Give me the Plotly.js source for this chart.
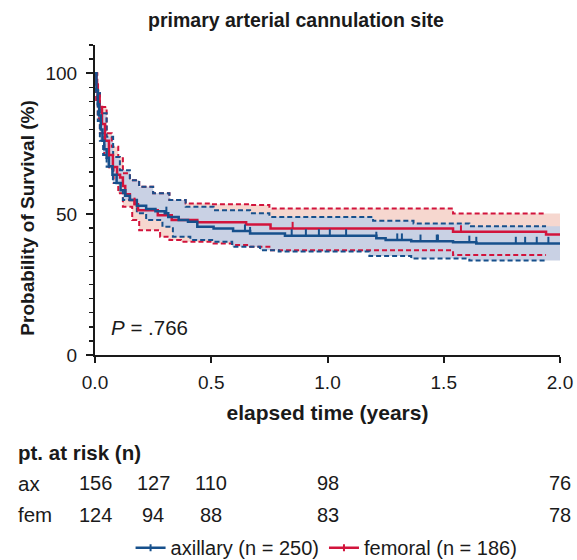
<!DOCTYPE html>
<html><head><meta charset="utf-8">
<script src="https://cdn.plot.ly/plotly-3.0.1.min.js"></script>
<style>html,body{margin:0;padding:0;background:#fff}</style>
</head><body><div id="chart" style="width:577px;height:560px"></div>
<script>
// Kaplan-Meier estimates (time in years, survival in %)
const axTime = [0, 0.006, 0.012, 0.018, 0.025, 0.032, 0.04, 0.05, 0.06, 0.075, 0.093, 0.11, 0.13, 0.15, 0.18, 0.22, 0.26, 0.30, 0.315, 0.36, 0.40, 0.44, 0.51, 0.594, 0.667, 0.817, 1.21, 1.25, 1.36, 1.54, 1.64, 2.0];
const axSurv = [100, 94, 89, 85, 80, 76, 73, 70, 67, 64, 61, 58.5, 56.5, 55, 53, 51.8, 51, 50.3, 49, 47.9, 47.3, 45.5, 44.9, 44, 43.1, 42.3, 41.4, 40.8, 40.4, 40.0, 39.6, 39.6];
const femTime = [0, 0.006, 0.012, 0.02, 0.03, 0.043, 0.06, 0.077, 0.095, 0.108, 0.12, 0.13, 0.15, 0.17, 0.185, 0.27, 0.33, 0.44, 0.65, 0.755, 1.54, 1.94, 2.0];
const femSurv = [100, 96, 92, 88, 82, 76, 71, 66.7, 64, 63, 60, 57, 55, 53.5, 51.4, 49.6, 47.9, 47.1, 46.3, 44.9, 43.7, 42.8, 42.8];

// 95% confidence limits
const axUpTime = [0, 0.008, 0.021, 0.05, 0.078, 0.107, 0.15, 0.19, 0.25, 0.32, 0.39, 0.51, 0.667, 0.75, 1.196, 1.37, 1.61, 1.94];
const axUp     = [100, 93, 85.8, 77.4, 70.3, 65.6, 62, 59.7, 57.4, 55, 52.6, 51.4, 50.3, 49, 47.6, 46.7, 45.7, 45.7];
const axLoTime = [0, 0.005, 0.012, 0.021, 0.035, 0.05, 0.077, 0.12, 0.18, 0.22, 0.29, 0.335, 0.41, 0.51, 0.59, 0.71, 0.79, 1.18, 1.36, 1.61, 1.94];
const axLo     = [100, 92, 83, 76, 71, 66.8, 61, 55, 50.3, 47.9, 45.5, 42, 40.8, 40.2, 38.4, 37.2, 36.7, 35.1, 34.2, 33.5, 33.5];
const femUpTime = [0, 0.01, 0.021, 0.05, 0.072, 0.1, 0.12, 0.15, 0.19, 0.25, 0.32, 0.39, 0.5, 0.667, 0.75, 1.54, 1.94];
const femUp     = [100, 94, 88, 78.7, 73.9, 70.3, 64.5, 62, 59.7, 57.4, 55, 53.8, 53.5, 53.2, 52, 50.2, 50.2];
const femLoTime = [0, 0.005, 0.012, 0.021, 0.04, 0.06, 0.08, 0.1, 0.12, 0.16, 0.19, 0.28, 0.32, 0.37, 0.51, 0.59, 0.667, 0.75, 1.54, 1.94];
const femLo     = [100, 90, 84, 78.7, 71, 66, 61, 57.4, 52.6, 47.9, 44.3, 42, 40.8, 40.2, 39.6, 39, 38.4, 37.2, 35.5, 35.5];

// censored observations (years)
const axCens  = [0.13, 0.307, 0.645, 0.667, 0.846, 0.907, 0.963, 1.01, 1.08, 1.21, 1.30, 1.32, 1.40, 1.47, 1.475, 1.61, 1.64, 1.81, 1.85, 1.90, 1.95];
const femCens = [0.17, 0.85, 1.574];

// numbers at risk
const riskTimes = [0, 0.25, 0.5, 1.0, 2.0];
const axRisk  = [156, 127, 110, 98, 76];
const femRisk = [124, 94, 88, 83, 78];

const axLabel = 'axillary (n = 250)';
const femLabel = 'femoral (n = 186)';
const pText = '<i>P</i> = .766';

const BLUE = '#17508C', RED = '#D2143C';
const BLUE_FILL = '#C9D1E4', RED_FILL = '#F6D7CF';
const FONT = 'Liberation Sans, Arial, Helvetica, sans-serif';
const INK = '#1a1a1a';
const XMAX = 2.0;
const LIFT = 1.1;

function stepAt(T, S, t) { let v = S[0]; for (let i = 0; i < T.length; i++) if (T[i] <= t) v = S[i]; return v; }
function extend(T, S) { return {x: T.concat([XMAX]), y: S.concat([S[S.length - 1]])}; }
function censTrace(C, T, S, color, name) {
  const x = [], y = [];
  C.forEach(t => { x.push(t, null); y.push(stepAt(T, S, t) + LIFT, null); });
  return {x, y, type: 'scatter', mode: 'lines+markers', name, connectgaps: false,
    line: {color, width: 2.5},
    marker: {symbol: 'line-ns', size: 5, line: {color, width: 2}}, cliponaxis: false};
}

const fr = {lo: extend(femLoTime, femLo), up: extend(femUpTime, femUp)};
const fa = {lo: extend(axLoTime, axLo), up: extend(axUpTime, axUp)};
const dashed = (color) => ({shape: 'hv', color, width: 2, dash: '5px,3px'});

const traces = [
  {x: fr.lo.x, y: fr.lo.y, type: 'scatter', mode: 'lines', line: {shape: 'hv', width: 0}, showlegend: false, hoverinfo: 'skip'},
  {x: fr.up.x, y: fr.up.y, type: 'scatter', mode: 'lines', line: {shape: 'hv', width: 0}, fill: 'tonexty', fillcolor: RED_FILL, showlegend: false, hoverinfo: 'skip'},
  {x: fa.lo.x, y: fa.lo.y, type: 'scatter', mode: 'lines', line: {shape: 'hv', width: 0}, showlegend: false, hoverinfo: 'skip'},
  {x: fa.up.x, y: fa.up.y, type: 'scatter', mode: 'lines', line: {shape: 'hv', width: 0}, fill: 'tonexty', fillcolor: BLUE_FILL, showlegend: false, hoverinfo: 'skip'},
  {x: femUpTime, y: femUp, type: 'scatter', mode: 'lines', line: dashed(RED), showlegend: false},
  {x: femLoTime, y: femLo, type: 'scatter', mode: 'lines', line: dashed(RED), showlegend: false},
  {x: axUpTime, y: axUp, type: 'scatter', mode: 'lines', line: dashed(BLUE), showlegend: false},
  {x: axLoTime, y: axLo, type: 'scatter', mode: 'lines', line: dashed(BLUE), showlegend: false},
  {x: femTime, y: femSurv, type: 'scatter', mode: 'lines', line: {shape: 'hv', color: RED, width: 2.5}, showlegend: false},
  {x: axTime, y: axSurv, type: 'scatter', mode: 'lines', line: {shape: 'hv', color: BLUE, width: 2.5}, showlegend: false},
  censTrace(axCens, axTime, axSurv, BLUE, axLabel),
  censTrace(femCens, femTime, femSurv, RED, femLabel)
];

const txt = (size, extra) => Object.assign({showarrow: false, font: {size, color: INK, family: FONT}}, extra);
const annotations = [
  txt(19, {text: '<b>Probability of Survival (%)</b>', xref: 'paper', yref: 'paper', x: -0.144, y: 0.44, textangle: -90, xanchor: 'center', yanchor: 'middle'}),
  txt(20.5, {text: pText, xref: 'paper', yref: 'paper', x: 0.03, y: 0.09, xanchor: 'left', yanchor: 'middle'}),
  txt(20.5, {text: '<b>pt. at risk (n)</b>', xref: 'paper', yref: 'paper', x: -0.17, y: -0.313, xanchor: 'left', yanchor: 'middle'}),
  txt(20.5, {text: 'ax', xref: 'paper', yref: 'paper', x: -0.17, y: -0.413, xanchor: 'left', yanchor: 'middle'}),
  txt(20.5, {text: 'fem', xref: 'paper', yref: 'paper', x: -0.17, y: -0.516, xanchor: 'left', yanchor: 'middle'})
];
riskTimes.forEach((t, i) => {
  annotations.push(txt(20, {text: String(axRisk[i]), xref: 'x', yref: 'paper', x: t, y: -0.413, xanchor: 'center', yanchor: 'middle'}));
  annotations.push(txt(20, {text: String(femRisk[i]), xref: 'x', yref: 'paper', x: t, y: -0.516, xanchor: 'center', yanchor: 'middle'}));
});

const layout = {
  width: 577, height: 560,
  margin: {l: 95, r: 17, t: 45, b: 205},
  paper_bgcolor: '#fff', plot_bgcolor: '#fff',
  font: {family: FONT, color: INK},
  title: {text: '<b>primary arterial cannulation site</b>', x: 0.513, xanchor: 'center', y: 0.964, yanchor: 'middle', font: {size: 19.5, color: INK, family: FONT}},
  xaxis: {range: [0, XMAX], tick0: 0, dtick: 0.5, tickformat: '.1f', showline: true, linewidth: 2, linecolor: INK,
    ticks: 'outside', ticklen: 6, tickwidth: 2, tickcolor: INK, showgrid: false, zeroline: false,
    ticklabelstandoff: 3, automargin: false,
    tickfont: {size: 19, family: FONT, color: INK},
    title: {text: '<b>elapsed time (years)</b>', font: {size: 21, family: FONT, color: INK}, standoff: 14}},
  yaxis: {range: [0, 110], tick0: 0, dtick: 50, showline: true, linewidth: 2, linecolor: INK,
    ticks: 'outside', ticklen: 7, tickwidth: 2, tickcolor: INK, showgrid: false, zeroline: false,
    ticklabelstandoff: 5, automargin: false,
    minor: {dtick: 5, tick0: 0, ticks: 'outside', ticklen: 4, tickwidth: 1.5, tickcolor: INK, showgrid: false},
    tickfont: {size: 19, family: FONT, color: INK}},
  showlegend: true,
  legend: {orientation: 'h', traceorder: 'normal', xref: 'paper', yref: 'container', x: 0.498, xanchor: 'center', y: 0.022, yanchor: 'middle',
    font: {size: 20, family: FONT, color: INK}, bgcolor: 'rgba(0,0,0,0)', tracegroupgap: 0, itemwidth: 30},
  annotations: annotations
};

Plotly.newPlot('chart', traces, layout, {displayModeBar: false, staticPlot: true});
</script>
</body></html>
